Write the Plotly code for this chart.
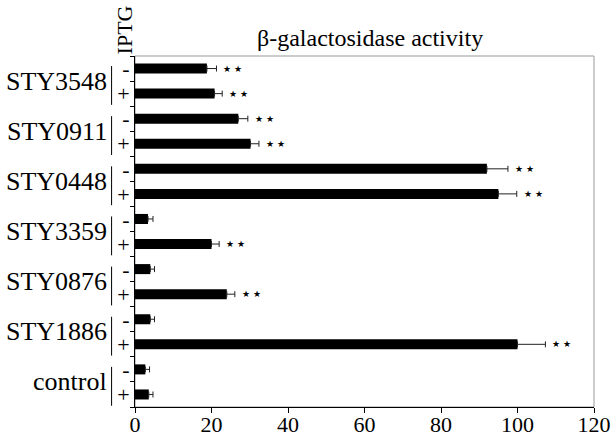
import plotly.graph_objects as go

genes = ["STY3548", "STY0911", "STY0448", "STY3359", "STY0876", "STY1886", "control"]
iptg = ["-", "+"]
values_minus = [18.8, 27.0, 92.0, 3.4, 4.0, 4.0, 2.7]
values_plus = [20.8, 30.2, 95.0, 20.0, 24.0, 100.0, 3.6]
err_minus = [2.5, 2.5, 5.5, 1.3, 1.1, 1.1, 1.1]
err_plus = [2.0, 2.2, 4.8, 2.0, 2.1, 7.3, 1.1]
signif_minus = [True, True, True, False, False, False, False]
signif_plus = [True, True, True, True, True, True, False]
x_ticks = [0, 20, 40, 60, 80, 100, 120]

cats, vals, errs, sig, signs = [], [], [], [], []
for i, g in enumerate(genes):
    for s, v, e, sg in ((iptg[0], values_minus[i], err_minus[i], signif_minus[i]),
                        (iptg[1], values_plus[i], err_plus[i], signif_plus[i])):
        cats.append(f"{g} {s}")
        vals.append(v)
        errs.append(e)
        sig.append(sg)
        signs.append(s)

n = len(cats)
SERIF = "Liberation Serif, Times New Roman, serif"

fig = go.Figure()
fig.add_trace(go.Bar(
    x=vals, y=cats, orientation="h",
    marker=dict(color="black", line=dict(width=0)),
    width=0.4,
    error_x=dict(type="data", symmetric=False, array=errs, arrayminus=[0] * n,
                 color="#222", thickness=1, width=3),
    showlegend=False,
))

annotations = []
for c, v, e, s in zip(cats, vals, errs, sig):
    if s:
        annotations.append(dict(x=v + e, y=c, xref="x", yref="y", text="★ ★",
                                showarrow=False, xanchor="left", yanchor="middle",
                                xshift=5, font=dict(family="DejaVu Sans", size=9, color="black")))

shapes = [dict(type="rect", xref="paper", yref="paper", x0=0, x1=1, y0=0, y1=1,
               line=dict(color="#999", width=1), layer="below")]

bracket_x = -0.051
for i, g in enumerate(genes):
    top = 1 - (2 * i + 0.4) / n
    bot = 1 - (2 * i + 1.95) / n
    mid = 1 - (2 * i + 1) / n
    shapes.append(dict(type="line", xref="paper", yref="paper", x0=bracket_x, x1=bracket_x,
                       y0=bot, y1=top, line=dict(color="black", width=1)))
    annotations.append(dict(x=bracket_x, y=mid, xref="paper", yref="paper", text=g,
                            showarrow=False, xanchor="right", yanchor="middle", xshift=-3,
                            font=dict(family=SERIF, size=26, color="black")))

annotations.append(dict(x=-0.022, y=1, xref="paper", yref="paper", text="IPTG",
                        showarrow=False, textangle=-90, xanchor="center", yanchor="bottom",
                        yshift=0, font=dict(family=SERIF, size=22, color="black")))
annotations.append(dict(x=0.512, y=1, xref="paper", yref="paper", text="β-galactosidase activity",
                        showarrow=False, xanchor="center", yanchor="bottom", yshift=3,
                        font=dict(family=SERIF, size=24, color="black")))

fig.update_layout(
    width=611, height=436,
    margin=dict(l=135, r=17, t=56, b=29, autoexpand=False),
    paper_bgcolor="white", plot_bgcolor="white",
    bargap=0.6,
    xaxis=dict(range=[0, 120], tickvals=x_ticks, automargin=False,
               showline=True, linecolor="black", linewidth=1, ticks="outside",
               ticklen=5, tickcolor="black", showgrid=False, zeroline=False,
               ticklabelstandoff=-7,
               tickfont=dict(family=SERIF, size=22, color="black")),
    yaxis=dict(type="category", categoryorder="array", categoryarray=cats, automargin=False,
               autorange="reversed", tickvals=cats, ticktext=signs,
               tickson="boundaries", ticks="outside", ticklen=4, tickcolor="black",
               showline=True, linecolor="black", linewidth=1, showgrid=False,
               tickfont=dict(family=SERIF, size=22, color="black")),
    annotations=annotations, shapes=shapes,
)

fig.write_html("out.html", config={"displayModeBar": False},
               post_script="document.body.style.margin='0';document.body.style.overflow='hidden';")
